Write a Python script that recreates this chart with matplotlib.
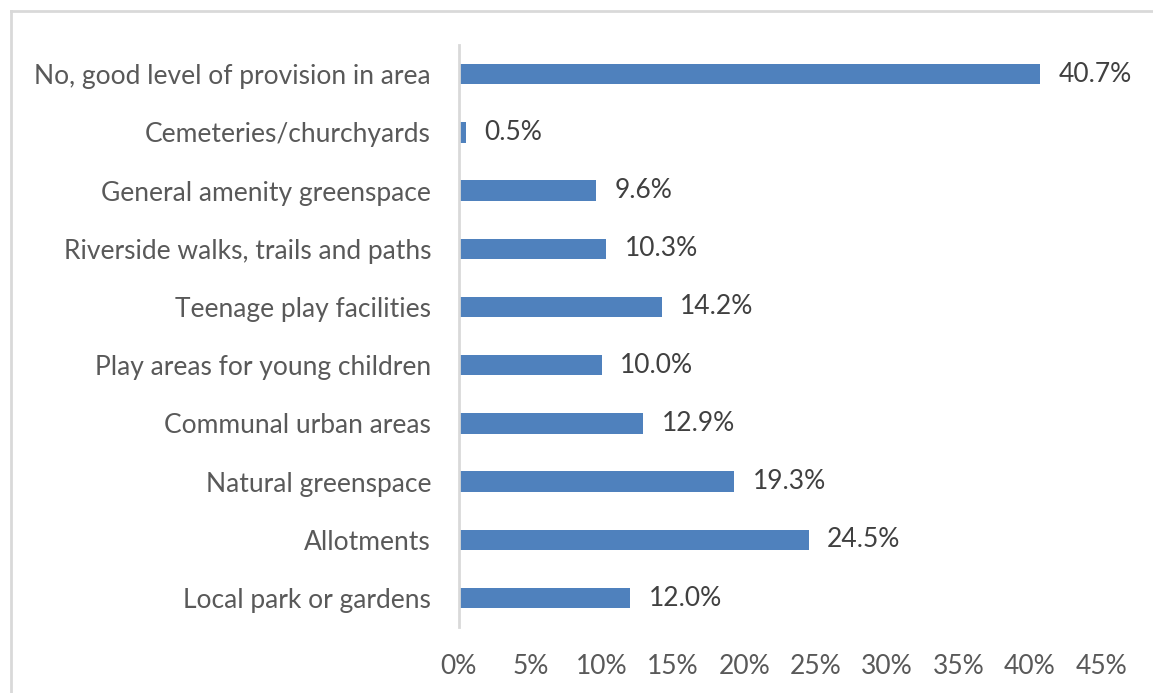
import matplotlib.pyplot as plt
from matplotlib.lines import Line2D
from matplotlib.ticker import FuncFormatter

categories = ['Local park or gardens', 'Allotments', 'Natural greenspace',
              'Communal urban areas', 'Play areas for young children',
              'Teenage play facilities', 'Riverside walks, trails and paths',
              'General amenity greenspace', 'Cemeteries/churchyards',
              'No, good level of provision in area']
values = [12.0, 24.5, 19.3, 12.9, 10.0, 14.2, 10.3, 9.6, 0.5, 40.7]
xticks = [0, 5, 10, 15, 20, 25, 30, 35, 40, 45]

plt.rcParams['font.family'] = ['Lato', 'DejaVu Sans']
text_color = '#595959'

fig = plt.figure(figsize=(11.53, 6.93), dpi=100)
ax = fig.add_axes([0.398, 0.095, 0.557, 0.84])

pos = range(len(categories))
ax.barh(pos, values, height=0.35, color='#4F81BD')
for y, v in zip(pos, values):
    ax.text(v + 1.3, y, f'{v:.1f}%', va='center', ha='left',
            fontsize=19, color='#404040')

ax.set_xlim(0, 45)
ax.set_ylim(-0.5, len(categories) - 0.5)
ax.set_xticks(xticks)
ax.xaxis.set_major_formatter(FuncFormatter(lambda x, p: f'{x:.0f}%'))
ax.set_yticks(list(pos))
ax.set_yticklabels(categories)
ax.tick_params(axis='both', length=0, labelsize=19, labelcolor=text_color)
ax.tick_params(axis='x', pad=19)
ax.tick_params(axis='y', pad=20)
for s in ['top', 'right', 'bottom']:
    ax.spines[s].set_visible(False)
ax.spines['left'].set_color('#D9D9D9')
ax.spines['left'].set_linewidth(2)

# outer chart border (only top and left edges fall inside the image)
bx, by = 11 / 1153, 1 - 11 / 693
fig.lines.append(Line2D([bx, 1], [by, by], transform=fig.transFigure,
                        color='#D9D9D9', linewidth=2))
fig.lines.append(Line2D([bx, bx], [0, by], transform=fig.transFigure,
                        color='#D9D9D9', linewidth=2))

fig.savefig('out.png', dpi=100)
